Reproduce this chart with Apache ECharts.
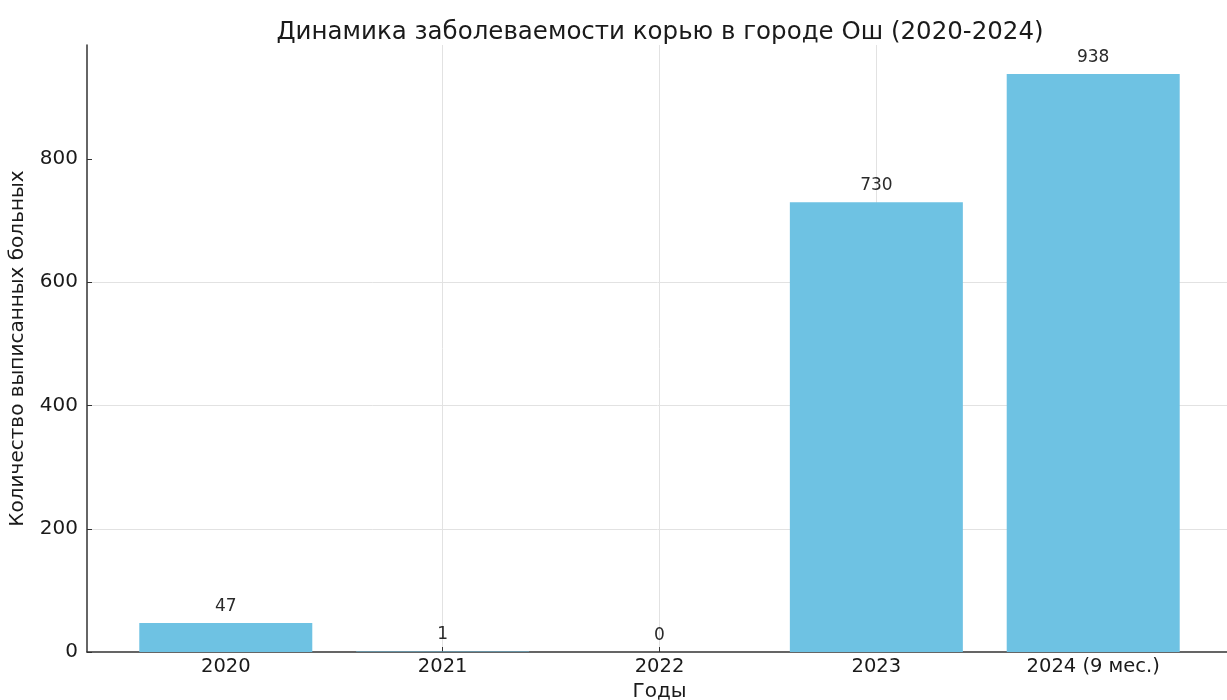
<!DOCTYPE html>
<html>
<head>
<meta charset="utf-8">
<script src="https://cdn.jsdelivr.net/npm/echarts@6/dist/echarts.min.js"></script>
<style>html,body{margin:0;padding:0;background:#fff}#c{width:1227px;height:700px}</style>
</head>
<body>
<div id="c"></div>
<script>
const categories = ['2020', '2021', '2022', '2023', '2024 (9 мес.)'];
const values = [47, 1, 0, 730, 938];
const yTicks = [0, 200, 400, 600, 800];

const chart = echarts.init(document.getElementById('c'), null, {renderer: 'canvas'});
const font = 'DejaVu Sans';
const positions = categories.map((c, i) => i);
chart.setOption({
  animation: false,
  backgroundColor: '#ffffff',
  title: {
    text: 'Динамика заболеваемости корью в городе Ош (2020-2024)',
    left: 655, top: 15, textAlign: 'center',
    textStyle: {fontFamily: font, fontSize: 24.5, fontWeight: 'normal', color: '#1a1a1a'}
  },
  grid: {left: 87, right: -5, top: 45, bottom: 48, containLabel: false, outerBoundsMode: 'none'},
  xAxis: {
    type: 'value', min: -0.64, max: 4.64,
    name: 'Годы', nameLocation: 'middle', nameGap: 30,
    nameTextStyle: {fontFamily: font, fontSize: 20, color: '#1a1a1a'},
    axisLine: {show: true, onZero: false, lineStyle: {color: '#333', width: 1.5}},
    axisTick: {show: true, inside: true, length: 5, customValues: positions, lineStyle: {color: '#333'}},
    axisLabel: {customValues: positions, formatter: v => categories[Math.round(v)] ?? '',
      fontFamily: font, fontSize: 19.5, color: '#1a1a1a', margin: 5},
    splitLine: {show: true, showMinLine: false, showMaxLine: false, lineStyle: {color: '#e2e2e2', width: 1}}
  },
  yAxis: {
    type: 'value', min: 0, max: 985, interval: 200,
    name: 'Количество выписанных больных', nameLocation: 'middle', nameGap: 59,
    nameTextStyle: {fontFamily: font, fontSize: 20, color: '#1a1a1a'},
    axisLine: {show: true, onZero: false, lineStyle: {color: '#333', width: 1.5}},
    axisTick: {show: true, inside: true, length: 5, customValues: yTicks, lineStyle: {color: '#333'}},
    axisLabel: {fontFamily: font, fontSize: 20, color: '#1a1a1a', margin: 9,
      customValues: yTicks},
    splitLine: {show: true, showMinLine: false, showMaxLine: false, lineStyle: {color: '#e2e2e2', width: 1}}
  },
  series: [{
    type: 'bar',
    data: values.map((v, i) => [i, v]),
    barWidth: 173,
    itemStyle: {color: '#6ec2e3'},
    label: {show: true, position: 'top', distance: 8, fontFamily: font, fontSize: 17, color: '#2a2a2a'}
  }]
});
</script>
</body>
</html>
